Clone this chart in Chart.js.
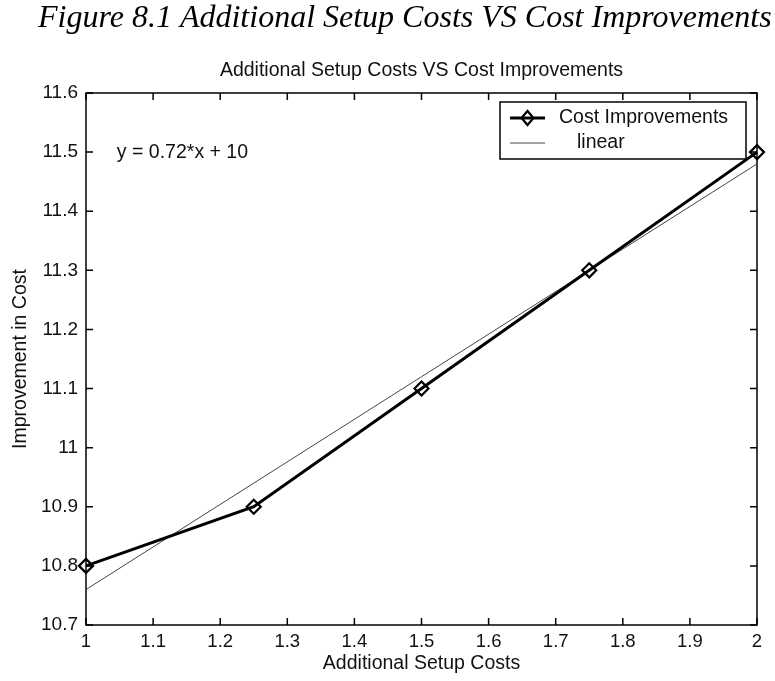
<!DOCTYPE html>
<html>
<head>
<meta charset="utf-8">
<title>Additional Setup Costs VS Cost Improvements</title>
<script src="https://cdn.jsdelivr.net/npm/chart.js@4.4.0/dist/chart.umd.min.js"></script>
<style>
  html, body { margin: 0; padding: 0; background: #fff; }
</style>
</head>
<body>
<canvas id="chart" width="775" height="681"></canvas>
<script>
// data
const setupCosts = [1, 1.25, 1.5, 1.75, 2];
const costImprovements = [10.8, 10.9, 11.1, 11.3, 11.5];
const linearX = [1, 2];
const linearY = [10.76, 11.48];
const xTicks = [1, 1.1, 1.2, 1.3, 1.4, 1.5, 1.6, 1.7, 1.8, 1.9, 2];
const yTicks = [10.7, 10.8, 10.9, 11, 11.1, 11.2, 11.3, 11.4, 11.5, 11.6];

const figureCaption = "Figure 8.1 Additional Setup Costs VS Cost Improvements";
const chartTitle = "Additional Setup Costs VS Cost Improvements";
const fitText = "y = 0.72*x + 10";

const sans = '"Liberation Sans", Arial, sans-serif';
Chart.defaults.font.family = sans;
Chart.defaults.color = "#111";

// MATLAB style box with inward ticks, captions and legend
const matlabAxes = {
  id: "matlabAxes",
  beforeDatasetsDraw(chart) {
    const { ctx, chartArea: a, scales: { x, y } } = chart;
    ctx.save();
    ctx.strokeStyle = "#000";
    ctx.lineWidth = 1.5;
    ctx.strokeRect(a.left, a.top, a.right - a.left, a.bottom - a.top);
    ctx.beginPath();
    x.ticks.forEach((t) => {
      const px = x.getPixelForValue(t.value);
      ctx.moveTo(px, a.bottom);
      ctx.lineTo(px, a.bottom - 7);
      ctx.moveTo(px, a.top);
      ctx.lineTo(px, a.top + 7);
    });
    y.ticks.forEach((t) => {
      const py = y.getPixelForValue(t.value);
      ctx.moveTo(a.left, py);
      ctx.lineTo(a.left + 7, py);
      ctx.moveTo(a.right, py);
      ctx.lineTo(a.right - 7, py);
    });
    ctx.stroke();
    ctx.restore();
  },
  afterDraw(chart) {
    const { ctx, chartArea: a, scales: { x, y } } = chart;
    ctx.save();
    ctx.fillStyle = "#000";

    ctx.font = 'italic 32px "Liberation Serif", "Times New Roman", serif';
    ctx.textAlign = "left";
    ctx.textBaseline = "alphabetic";
    ctx.fillText(figureCaption, 38, 27);

    ctx.fillStyle = "#111";
    ctx.font = "19.5px " + sans;
    ctx.textAlign = "center";
    ctx.textBaseline = "middle";
    ctx.fillText(chartTitle, (a.left + a.right) / 2, 71);

    ctx.textAlign = "left";
    ctx.fillText(fitText, x.getPixelForValue(1.046), y.getPixelForValue(11.5) + 1);

    // legend box
    const [main, lin] = chart.data.datasets;
    const bx = a.right - 257, by = a.top + 9, bw = 246, bh = 57;
    ctx.fillStyle = "#fff";
    ctx.fillRect(bx, by, bw, bh);
    ctx.strokeStyle = "#000";
    ctx.lineWidth = 1.5;
    ctx.strokeRect(bx, by, bw, bh);

    const r1 = by + 16, r2 = by + 41;
    ctx.beginPath();
    ctx.lineWidth = main.borderWidth;
    ctx.strokeStyle = main.borderColor;
    ctx.moveTo(bx + 10, r1);
    ctx.lineTo(bx + 45, r1);
    ctx.stroke();
    ctx.beginPath();
    ctx.lineWidth = main.pointBorderWidth;
    ctx.moveTo(bx + 27.5 - 6, r1);
    ctx.lineTo(bx + 27.5, r1 - 7);
    ctx.lineTo(bx + 27.5 + 6, r1);
    ctx.lineTo(bx + 27.5, r1 + 7);
    ctx.closePath();
    ctx.stroke();

    ctx.beginPath();
    ctx.lineWidth = lin.borderWidth;
    ctx.strokeStyle = lin.borderColor;
    ctx.moveTo(bx + 10, r2);
    ctx.lineTo(bx + 45, r2);
    ctx.stroke();

    ctx.fillStyle = "#111";
    ctx.fillText(main.label, bx + 59, r1);
    ctx.fillText(lin.label, bx + 77, r2);
    ctx.restore();
  },
};

new Chart(document.getElementById("chart"), {
  type: "scatter",
  data: {
    datasets: [
      {
        label: "Cost Improvements",
        data: setupCosts.map((v, i) => ({ x: v, y: costImprovements[i] })),
        showLine: true,
        borderColor: "#000",
        borderWidth: 3,
        pointStyle: "rectRot",
        pointRadius: 7,
        pointBorderWidth: 2.2,
        pointBorderColor: "#000",
        pointBackgroundColor: "rgba(0,0,0,0)",
        clip: false,
      },
      {
        label: "linear",
        data: linearX.map((v, i) => ({ x: v, y: linearY[i] })),
        showLine: true,
        borderColor: "#444",
        borderWidth: 1,
        pointRadius: 0,
        clip: false,
      },
    ],
  },
  options: {
    responsive: false,
    animation: false,
    layout: { padding: { left: 0, right: 18, top: 93, bottom: 0 } },
    plugins: {
      legend: { display: false },
      title: { display: false },
      tooltip: { enabled: false },
    },
    scales: {
      x: {
        type: "linear",
        min: 1,
        max: 2,
        afterBuildTicks: (s) => { s.ticks = xTicks.map((value) => ({ value })); },
        afterFit: (s) => { s.height = 56; },
        grid: { display: false, drawTicks: false },
        border: { display: false },
        ticks: { callback: (v) => String(v), font: { size: 18.5 }, padding: 6, maxRotation: 0, autoSkip: false },
        title: { display: true, text: "Additional Setup Costs", font: { size: 19.5 }, padding: { top: 0, bottom: 6 } },
      },
      y: {
        type: "linear",
        min: 10.7,
        max: 11.6,
        afterBuildTicks: (s) => { s.ticks = yTicks.map((value) => ({ value })); },
        afterFit: (s) => { s.width = 86; },
        grid: { display: false, drawTicks: false },
        border: { display: false },
        ticks: { callback: (v) => String(v), font: { size: 19 }, padding: 8, autoSkip: false },
        title: { display: true, text: "Improvement in Cost", font: { size: 19.5 }, padding: { top: 9, bottom: 0 } },
      },
    },
  },
  plugins: [matlabAxes],
});
</script>
</body>
</html>
